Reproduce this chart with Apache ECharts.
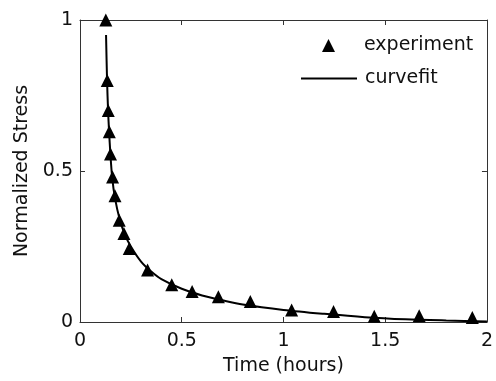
<!DOCTYPE html>
<html>
<head>
<meta charset="utf-8">
<script src="https://cdn.jsdelivr.net/npm/echarts@6/dist/echarts.min.js"></script>
<style>
  html, body {margin: 0; padding: 0; background: #fff;}
  #chart {width: 496px; height: 381px;}
</style>
</head>
<body>
<div id="chart"></div>
<script>
// measured points (hours, normalized stress)
const expTime = [0.127, 0.134, 0.139, 0.144, 0.150, 0.160, 0.172, 0.193, 0.216, 0.242,
  0.332, 0.451, 0.551, 0.680, 0.837, 1.040, 1.246, 1.446, 1.667, 1.928];
const expStress = [1.0, 0.80, 0.70, 0.63, 0.556, 0.48, 0.418, 0.337, 0.293, 0.243,
  0.172, 0.123, 0.101, 0.084, 0.068, 0.040, 0.035, 0.019, 0.021, 0.015];

// fitted curve
const fitTime = [0.128, 0.133, 0.138, 0.143, 0.149, 0.158, 0.172, 0.195, 0.22, 0.25,
  0.3, 0.35, 0.4, 0.5, 0.6, 0.7, 0.8, 1.0, 1.2, 1.4, 1.6, 1.8, 2.0];
const fitStress = [0.95, 0.80, 0.70, 0.63, 0.56, 0.48, 0.41, 0.34, 0.29, 0.25,
  0.20, 0.167, 0.142, 0.11, 0.088, 0.072, 0.058, 0.04, 0.027, 0.016, 0.009, 0.005, 0.002];

const xTicks = [0, 0.5, 1, 1.5, 2];
const yTicks = [0, 0.5, 1];

const font = 'DejaVu Sans, sans-serif';
const ink = '#111';
const fs = 19;

const chart = echarts.init(document.getElementById('chart'));

const baseAxis = {
  type: 'value',
  axisLine: {show: true, onZero: false, lineStyle: {color: '#333', width: 1}},
  axisTick: {show: true, inside: true, length: 5, lineStyle: {color: '#333'}},
  splitLine: {show: false},
};

const legendText = {fontFamily: font, fontSize: fs, color: ink};

chart.setOption({
  animation: false,
  backgroundColor: '#fff',
  grid: {left: 80, right: 8, top: 20, bottom: 57},
  legend: [
    {
      orient: 'vertical',
      left: 322,
      top: 36,
      padding: 0,
      itemWidth: 13,
      itemHeight: 13,
      icon: 'triangle',
      textStyle: {...legendText, padding: [5, 0, 0, 24]},
      data: ['experiment']
    },
    {
      orient: 'vertical',
      left: 301,
      top: 69,
      padding: 0,
      itemWidth: 56,
      itemHeight: 2,
      icon: 'rect',
      textStyle: {...legendText, padding: [0, 0, 0, 3]},
      data: ['curvefit']
    }
  ],
  xAxis: [
    {
      ...baseAxis,
      min: xTicks[0],
      max: xTicks[xTicks.length - 1],
      interval: 0.5,
      name: 'Time (hours)',
      nameLocation: 'middle',
      nameGap: 35,
      nameTextStyle: {fontFamily: font, fontSize: fs, color: ink},
      axisLabel: {fontFamily: font, fontSize: fs, color: ink, margin: 10}
    },
    {
      ...baseAxis,
      position: 'top',
      min: 0, max: 2, interval: 0.5,
      axisLabel: {show: false}
    }
  ],
  yAxis: [
    {
      ...baseAxis,
      min: yTicks[0],
      max: yTicks[yTicks.length - 1],
      interval: 0.5,
      name: 'Normalized Stress',
      nameLocation: 'middle',
      nameGap: 41,
      nameTextStyle: {fontFamily: font, fontSize: fs, color: ink},
      axisLabel: {fontFamily: font, fontSize: fs, color: ink, margin: 7}
    },
    {
      ...baseAxis,
      position: 'right',
      min: 0, max: 1, interval: 0.5,
      axisLabel: {show: false}
    }
  ],
  series: [
    {
      name: 'experiment',
      type: 'scatter',
      symbol: 'triangle',
      symbolSize: 13,
      itemStyle: {color: '#000', opacity: 1},
      z: 3,
      data: expTime.map((t, i) => [t, expStress[i]])
    },
    {
      name: 'curvefit',
      type: 'line',
      symbol: 'none',
      smooth: 0.3,
      lineStyle: {color: '#000', width: 2},
      itemStyle: {color: '#000'},
      z: 2,
      data: fitTime.map((t, i) => [t, fitStress[i]])
    }
  ]
});
</script>
</body>
</html>
